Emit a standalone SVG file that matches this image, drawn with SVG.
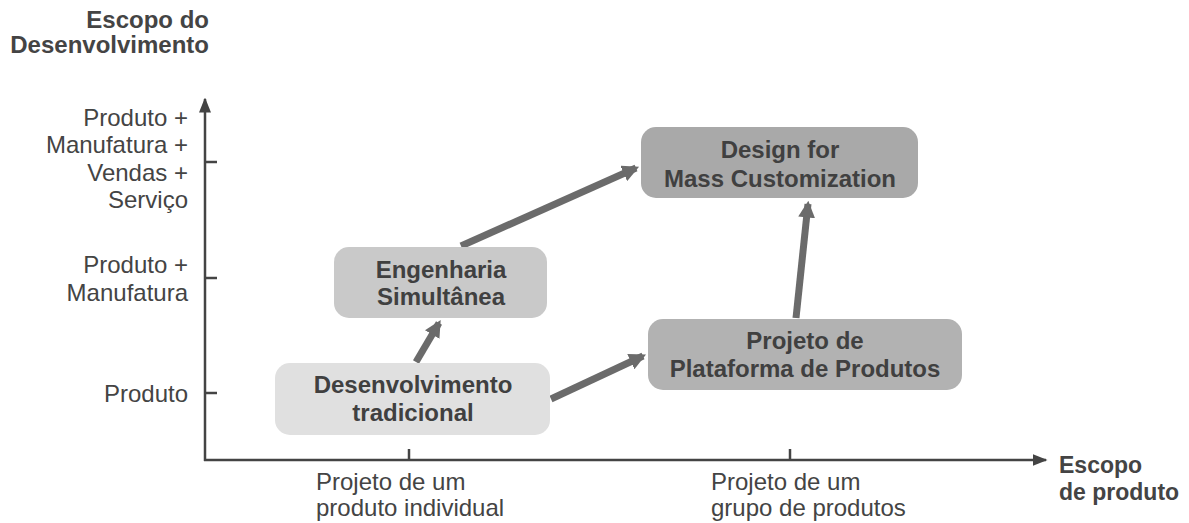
<svg xmlns="http://www.w3.org/2000/svg" width="1189" height="523" viewBox="0 0 1189 523">
<defs>
<style>
.lbl{font-family:"Liberation Sans",Arial,sans-serif;font-size:24px;fill:#444}
.bold{font-weight:bold}
.sm{font-size:23px}
.nt{font-family:"Liberation Sans",Arial,sans-serif;font-size:24px;font-weight:bold;fill:#404040;text-anchor:middle}
.axis{stroke:#444;stroke-width:2.5;fill:none}
.con{stroke:#6b6b6b;stroke-width:7;fill:none;marker-end:url(#ah)}
</style>
<marker id="ah" viewBox="0 0 10 10" refX="8" refY="5" markerWidth="2.4" markerHeight="2.4" orient="auto" markerUnits="strokeWidth">
<path d="M0,0 L10,5 L0,10 z" fill="#6b6b6b"/>
</marker>
<marker id="axh" viewBox="0 0 10 10" refX="9" refY="5" markerWidth="6" markerHeight="6" orient="auto" markerUnits="strokeWidth">
<path d="M0,1 L10,5 L0,9 z" fill="#444"/>
</marker>
</defs>
<rect width="1189" height="523" fill="#fff"/>
<g id="axes">
<line class="axis" x1="205" y1="461" x2="205" y2="99" marker-end="url(#axh)"/>
<line class="axis" x1="204" y1="460" x2="1046" y2="460" marker-end="url(#axh)"/>
<line class="axis" x1="205" y1="162" x2="217" y2="162"/>
<line class="axis" x1="205" y1="278" x2="217" y2="278"/>
<line class="axis" x1="205" y1="393" x2="217" y2="393"/>
<line class="axis" x1="409" y1="460" x2="409" y2="449"/>
<line class="axis" x1="790" y1="460" x2="790" y2="449"/>
</g>
<g id="labels">
<text class="lbl bold" text-anchor="end" x="209" y="28">Escopo do</text>
<text class="lbl bold" text-anchor="end" x="209" y="53">Desenvolvimento</text>
<text class="lbl" text-anchor="end" x="188" y="126">Produto +</text>
<text class="lbl" text-anchor="end" x="188" y="153">Manufatura +</text>
<text class="lbl" text-anchor="end" x="188" y="181">Vendas +</text>
<text class="lbl" text-anchor="end" x="188" y="208">Serviço</text>
<text class="lbl" text-anchor="end" x="188" y="273">Produto +</text>
<text class="lbl" text-anchor="end" x="188" y="301">Manufatura</text>
<text class="lbl" text-anchor="end" x="188" y="402">Produto</text>
<text class="lbl" x="316" y="490">Projeto de um</text>
<text class="lbl" x="316" y="516">produto individual</text>
<text class="lbl" x="711" y="490">Projeto de um</text>
<text class="lbl" x="711" y="516">grupo de produtos</text>
<text class="lbl bold sm" x="1059" y="473">Escopo</text>
<text class="lbl bold sm" x="1059" y="500">de produto</text>
</g>
<g id="connectors">
<line class="con" x1="416" y1="362" x2="439" y2="323"/>
<line class="con" x1="461" y1="246" x2="636" y2="168"/>
<line class="con" x1="551" y1="399" x2="643" y2="356"/>
<line class="con" x1="796" y1="318" x2="808" y2="204"/>
</g>
<g id="n-desenvolvimento">
<rect x="275" y="363" width="275" height="72" rx="15" fill="#e0e0e0"/>
<text class="nt" x="413" y="393">Desenvolvimento</text>
<text class="nt" x="413" y="421">tradicional</text>
</g>
<g id="n-engenharia">
<rect x="334" y="247" width="213" height="71" rx="15" fill="#c9c9c9"/>
<text class="nt" x="441" y="278">Engenharia</text>
<text class="nt" x="441" y="305">Simultânea</text>
</g>
<g id="n-design">
<rect x="641" y="127" width="277" height="71" rx="15" fill="#a9a9a9"/>
<text class="nt" x="780" y="158">Design for</text>
<text class="nt" x="780" y="187">Mass Customization</text>
</g>
<g id="n-plataforma">
<rect x="648" y="319" width="314" height="71" rx="15" fill="#b2b2b2"/>
<text class="nt" x="805" y="349">Projeto de</text>
<text class="nt" x="805" y="377">Plataforma de Produtos</text>
</g>
</svg>
